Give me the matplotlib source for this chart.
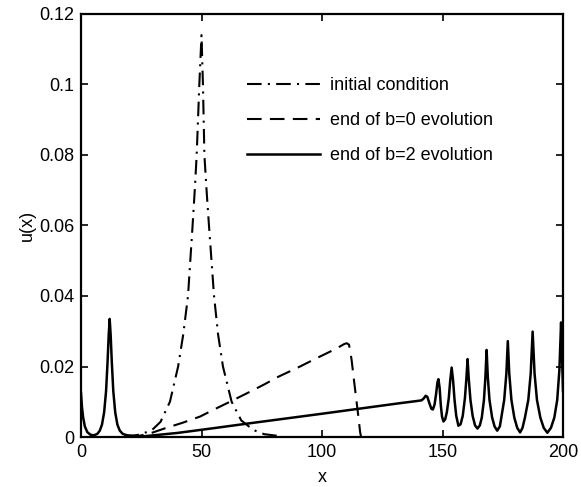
import numpy as np
import matplotlib
matplotlib.use("Agg")
import matplotlib.pyplot as plt

plt.rcParams['font.family'] = ['Liberation Sans', 'DejaVu Sans']

# initial condition (dash-dot)
ic_x = [18, 22, 25, 29.5, 33, 36.9, 40.3, 42.4, 44.4, 46.3, 47.2, 48.0, 49.1, 50.0,
        50.6, 51.2, 52.1, 53.1, 55.2, 56.9, 58.9, 62.5, 66.5, 71.5, 76, 82]
ic_y = [0.0002, 0.0004, 0.0008, 0.002, 0.0043, 0.01, 0.02, 0.029, 0.04, 0.06, 0.07, 0.08, 0.1, 0.114,
        0.1, 0.08, 0.07, 0.06, 0.04, 0.029, 0.02, 0.01, 0.0047, 0.002, 0.0008, 0.0003]

# end of b=0 evolution (dashed)
b0_x = [20, 24, 28.6, 35, 42, 49.4, 55.5, 61.8, 70, 76, 81.9, 90.9, 97, 103.3, 107.5,
        109.3, 110.3, 111.2, 111.8, 112.3, 113.2, 114.1, 115.0, 115.8, 116.2]
b0_y = [0, 0.0003, 0.001, 0.0025, 0.004, 0.0058, 0.0079, 0.0100, 0.0128, 0.0149, 0.0171, 0.0200, 0.0221, 0.0242, 0.0257,
        0.0264, 0.0266, 0.0262, 0.0240, 0.0218, 0.0165, 0.0114, 0.0063, 0.0015, 0]

# end of b=2 evolution (solid)
b2_x = [0, 0.4, 0.9, 1.6, 2.6, 4.0, 5.5, 6.8, 7.8, 8.7, 9.6, 10.4, 11.0, 11.5, 11.9,
        12.3, 12.8, 13.4, 14.2, 15.1, 16.1, 17.3, 19, 22, 26, 40, 55, 70.1, 100, 132.4,
        139.3, 141.3, 142.3, 143.0, 143.7, 144.6, 145.4, 146.0, 146.7, 147.3, 147.9, 148.3,
        148.8, 149.3, 149.8, 150.4,
        151.1, 151.8, 152.6, 153.2, 153.8, 154.4, 155.0, 155.7, 156.6, 157.5,
        158.4, 159.3, 159.9, 160.4, 160.9, 161.6, 162.5, 163.5, 164.5, 165.5,
        166.3, 167.2, 167.8, 168.3, 168.8, 169.5, 170.6, 171.6, 172.7, 173.8,
        174.4, 175.6, 176.5, 177.1, 177.7, 178.6, 179.8, 181.0, 182.2, 183.2,
        184.2, 185.6, 186.6, 187.4, 188.2, 189.2, 190.6, 192.0, 193.5, 195.0,
        196.4, 197.6, 198.5, 199.2, 199.6, 200.0]
b2_y = [0.0125, 0.0085, 0.0055, 0.0030, 0.0014, 0.0006, 0.0005, 0.0009, 0.0018, 0.0035, 0.0070, 0.0130, 0.0210, 0.0290, 0.0335,
        0.0290, 0.0210, 0.0130, 0.0070, 0.0035, 0.0018, 0.0009, 0.0005, 0.0003, 0.0002, 0.00115, 0.0025, 0.0039, 0.0066, 0.0096,
        0.0102, 0.0104, 0.0110, 0.0117, 0.0114, 0.0095, 0.0080, 0.0078, 0.0092, 0.0120, 0.0155, 0.0164,
        0.0140, 0.0090, 0.0058, 0.0044,
        0.0050, 0.0070, 0.0110, 0.0160, 0.0197, 0.0160, 0.0105, 0.0060, 0.0032, 0.0036,
        0.0060, 0.0110, 0.0165, 0.0221, 0.0165, 0.0105, 0.0060, 0.0033, 0.0024, 0.0033,
        0.0055, 0.0105, 0.0170, 0.0247, 0.0170, 0.0105, 0.0055, 0.0030, 0.0018, 0.0030,
        0.0055, 0.0105, 0.0180, 0.0272, 0.0180, 0.0105, 0.0055, 0.0026, 0.0013, 0.0026,
        0.0055, 0.0105, 0.0180, 0.0299, 0.0180, 0.0105, 0.0055, 0.0026, 0.0012, 0.0026,
        0.0055, 0.0105, 0.0190, 0.0325, 0.0230, 0.0130]

fig = plt.figure(figsize=(5.81, 4.87), dpi=100)
ax = fig.add_axes([81/581, 50/487, 482/581, 423/487])

ax.plot(ic_x, ic_y, color='black', lw=1.5, dashes=(7, 3, 1, 3), label='initial condition')
ax.plot(b0_x, b0_y, color='black', lw=1.5, dashes=(7, 4), label='end of b=0 evolution')
ax.plot(b2_x, b2_y, color='black', lw=1.8, label='end of b=2 evolution')

ax.set_xlim(0, 200)
ax.set_ylim(0, 0.12)
ax.set_xticks([0, 50, 100, 150, 200])
ax.set_yticks([0, 0.02, 0.04, 0.06, 0.08, 0.1, 0.12])
ax.set_yticklabels(['0', '0.02', '0.04', '0.06', '0.08', '0.1', '0.12'])
ax.tick_params(direction='in', top=True, right=True, length=5, width=1.2, labelsize=13, pad=5)
for s in ax.spines.values():
    s.set_linewidth(1.6)
ax.set_xlabel('x', fontsize=13, labelpad=6)
ax.set_ylabel('u(x)', fontsize=13, labelpad=2)

ax.legend(loc='upper left', bbox_to_anchor=(0.33, 0.868), frameon=False, fontsize=13,
          handlelength=4.0, handletextpad=0.6, labelspacing=1.0, borderaxespad=0)

fig.savefig('out.png', dpi=100)
